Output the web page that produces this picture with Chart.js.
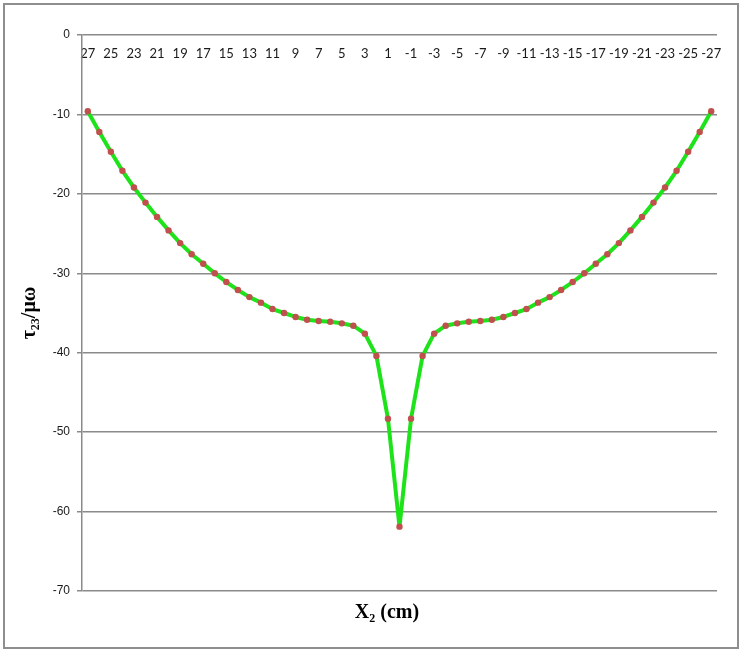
<!DOCTYPE html>
<html>
<head>
<meta charset="utf-8">
<script src="https://cdn.jsdelivr.net/npm/chart.js@4"></script>
<style>
  body { margin: 0; background: #fff; }
  #frame { position: absolute; left: 3px; top: 3px; width: 736px; height: 646px; border: 2px solid #8e8e8e; box-sizing: border-box; }
  #c { position: absolute; left: 0; top: 0; }
</style>
</head>
<body>
<div id="frame"></div>
<canvas id="c" width="745" height="655"></canvas>
<script>
// x2 positions (cm), left to right as in the sheet
const x_labels = [27, 26, 25, 24, 23, 22, 21, 20, 19, 18, 17, 16, 15, 14, 13, 12, 11, 10, 9, 8, 7, 6, 5, 4, 3, 2, 1, 0,
  -1, -2, -3, -4, -5, -6, -7, -8, -9, -10, -11, -12, -13, -14, -15, -16, -17, -18, -19, -20, -21, -22, -23, -24, -25, -26, -27];

// tau23 / mu omega
const tau_values = [-9.6, -12.2, -14.7, -17.1, -19.2, -21.1, -22.9, -24.6, -26.2, -27.6, -28.8, -30.0, -31.1, -32.1,
  -33.0, -33.7, -34.5, -35.0, -35.5, -35.85, -36.0, -36.1, -36.3, -36.6, -37.6, -40.4, -48.3, -61.9,
  -48.3, -40.4, -37.6, -36.6, -36.3, -36.1, -36.0, -35.85, -35.5, -35.0, -34.5, -33.7, -33.0,
  -32.1, -31.1, -30.0, -28.8, -27.6, -26.2, -24.6, -22.9, -21.1, -19.2, -17.1, -14.7, -12.2, -9.6];

const y_ticks = [0, -10, -20, -30, -40, -50, -60, -70];

const gridGray = "#8a8a8a";

tau_chart = new Chart("c", {
  type: "line",
  data: {
    labels: x_labels,
    datasets: [{
      data: tau_values,
      borderColor: "#1fe31a",
      borderWidth: 4,
      borderJoinStyle: "round",
      tension: 0,
      pointRadius: 3.2,
      pointHoverRadius: 3.2,
      pointBackgroundColor: "#c0504d",
      pointBorderWidth: 0,
      xAxisID: "x"
    }]
  },
  options: {
    responsive: false,
    animation: false,
    layout: { padding: { left: 0, right: 28, top: 35, bottom: 0 } },
    plugins: { legend: { display: false }, tooltip: { enabled: false } },
    scales: {
      x: {
        type: "category",
        position: { y: 0 },
        offset: true,
        grid: { display: false, drawTicks: false },
        border: { display: false },
        ticks: {
          autoSkip: false,
          maxRotation: 0,
          padding: 11,
          color: "#1a1a1a",
          font: { family: "Lato", size: 13 },
          callback: function (v, i) { return i % 2 === 0 ? x_labels[i] : ""; }
        }
      },
      xb: {
        type: "category",
        position: "bottom",
        grid: { display: false, drawTicks: false },
        border: { display: false },
        ticks: { display: false },
        title: {
          display: true,
          // trailing en spaces nudge the centred title left, as in the original
          text: "X\u2082 (cm)\u2002\u2002 ",
          color: "#000",
          font: { family: "Liberation Serif", size: 20, weight: "bold" },
          padding: { top: 30, bottom: 30 }
        },
        afterFit: function (s) { s.height = 64; }
      },
      y: {
        min: -70,
        max: 0,
        afterBuildTicks: function (s) { s.ticks = y_ticks.map(v => ({ value: v })); },
        grid: { color: gridGray, lineWidth: 1.5, tickLength: 5 },
        border: { color: gridGray, width: 1.5 },
        ticks: {
          padding: 7,
          color: "#1a1a1a",
          font: { family: "Liberation Sans", size: 12 }
        },
        title: {
          display: true,
          text: "\u03c4\u2082\u2083/\u03bc\u03c9",
          color: "#000",
          font: { family: "Liberation Serif", size: 20, weight: "bold" },
          padding: { top: 18, bottom: 0 }
        },
        afterFit: function (s) { s.width = 82; }
      }
    }
  }
});
</script>
</body>
</html>
